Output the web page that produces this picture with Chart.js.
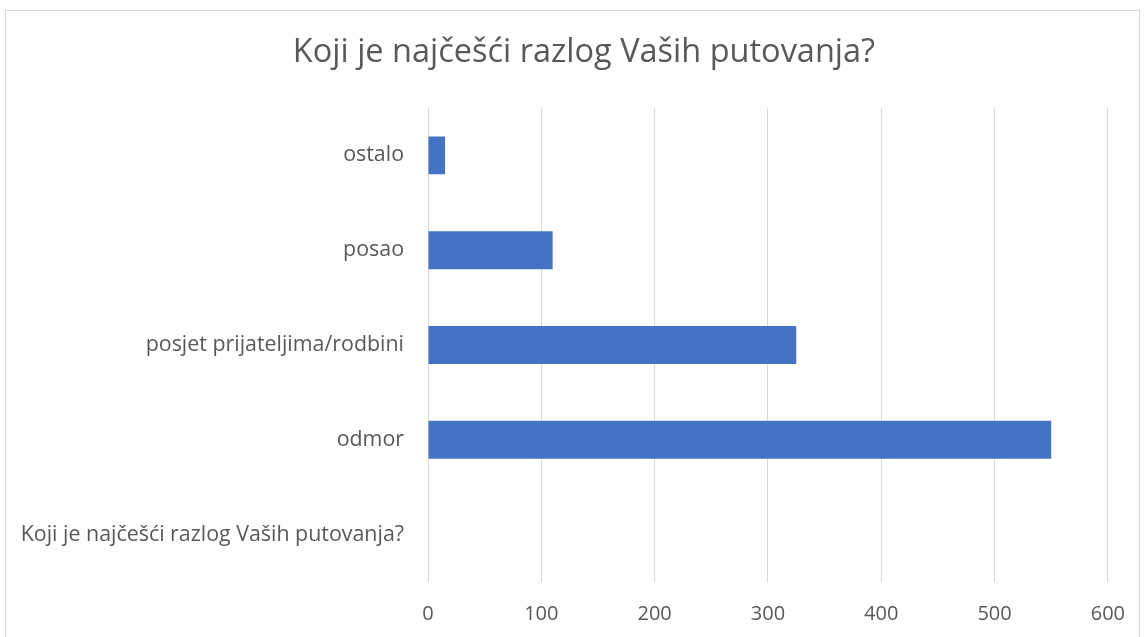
<!DOCTYPE html>
<html lang="hr">
<head>
    <meta charset="utf-8">
    <title>Koji je najčešći razlog Vaših putovanja?</title>
    <script src="https://cdn.jsdelivr.net/npm/chart.js"></script>
    <style>
        html, body { margin: 0; padding: 0; background: #fff; }
        #wrap { position: relative; width: 1145px; height: 637px; }
    </style>
</head>
<body>
    <div id="wrap"><canvas id="reasonsChart" width="1145" height="637"></canvas></div>

    <script>
        // data
        const titleText = 'Koji je najčešći razlog Vaših putovanja?';
        const categories = ['ostalo', 'posao', 'posjet prijateljima/rodbini', 'odmor', 'Koji je najčešći razlog Vaših putovanja?'];
        const counts = [15, 110, 325, 550, null];
        const xTicks = [0, 100, 200, 300, 400, 500, 600];

        const textColor = '#595959';
        const gridColor = '#d9d9d9';
        const fontFamily = "'Open Sans', 'Liberation Sans', sans-serif";

        // frame round the whole chart + title centred on the frame (not on the plot)
        const framePlugin = {
            id: 'frame',
            beforeDraw(chart) {
                const c = chart.ctx;
                c.save();
                c.strokeStyle = gridColor;
                c.lineWidth = 1;
                c.strokeRect(5.5, 10.5, 1134, 700);
                c.fillStyle = textColor;
                c.font = '32.5px ' + fontFamily;
                c.textAlign = 'center';
                c.textBaseline = 'middle';
                c.fillText(titleText, 584, 53);
                c.restore();
            }
        };

        const ctx = document.getElementById('reasonsChart').getContext('2d');
        new Chart(ctx, {
            type: 'bar',
            data: {
                labels: categories,
                datasets: [{
                    label: titleText,
                    data: counts,
                    backgroundColor: '#4472c4',
                    borderWidth: 0,
                    barPercentage: 0.4,
                    categoryPercentage: 1
                }]
            },
            options: {
                indexAxis: 'y',
                responsive: false,
                animation: false,
                layout: { padding: { left: 0, right: 32, top: 108, bottom: 0 } },
                plugins: {
                    legend: { display: false },
                    tooltip: { enabled: false },
                    title: { display: false }
                },
                scales: {
                    x: {
                        min: 0,
                        max: 600,
                        afterBuildTicks: (axis) => { axis.ticks = xTicks.map(v => ({ value: v })); },
                        afterFit: (axis) => { axis.height = 55; },
                        grid: { color: gridColor, lineWidth: 1, drawTicks: false },
                        border: { display: false },
                        ticks: {
                            color: textColor,
                            padding: 20,
                            font: { family: fontFamily, size: 20 }
                        }
                    },
                    y: {
                        afterFit: (axis) => { axis.width = 428; },
                        grid: { display: false, drawTicks: false },
                        border: { display: false },
                        ticks: {
                            color: textColor,
                            padding: 24,
                            font: { family: fontFamily, size: 21.4 }
                        }
                    }
                }
            },
            plugins: [framePlugin]
        });
    </script>
</body>
</html>
